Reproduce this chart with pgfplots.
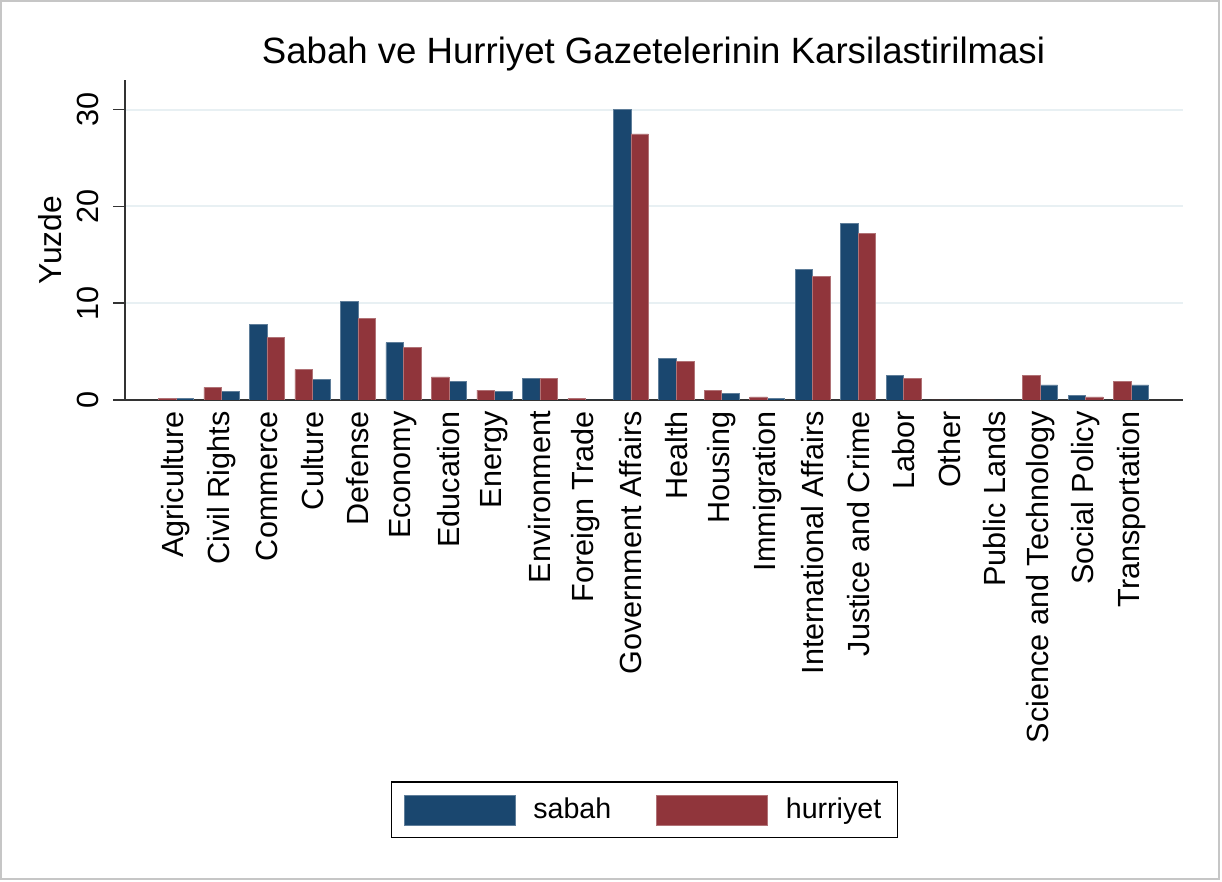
\documentclass[border=0pt]{standalone}
\usepackage{fontspec}
\setmainfont{Liberation Sans}
\usepackage{pgfplots}
\pgfplotsset{compat=1.18}
\definecolor{sabahblue}{RGB}{26,71,111}
\definecolor{hurred}{RGB}{144,53,59}
\definecolor{gridc}{RGB}{232,240,243}
\begin{document}
\begin{tikzpicture}
\useasboundingbox (0,0) rectangle (611pt,441pt);
\draw[gray!45, line width=0.6pt] (0.5pt,1.5pt) rectangle (609.5pt,440.5pt);
\node[font=\fontsize{18.3}{22}\selectfont] at (326.75pt,414pt) {Sabah ve Hurriyet Gazetelerinin Karsilastirilmasi};
\begin{axis}[
  at={(62.5pt,241pt)}, anchor=south west,
  scale only axis, width=529pt, height=160pt,
  xmin=-1.12, xmax=22.14, ymin=0, ymax=33.06,
  ybar, bar shift=0pt, bar width=0.385,
  axis lines*=left,
  axis line style={black!80, line width=0.8pt},
  xtick={0,...,21},
  xticklabels={Agriculture,Civil Rights,Commerce,Culture,Defense,Economy,Education,Energy,Environment,Foreign Trade,Government Affairs,Health,Housing,Immigration,International Affairs,Justice and Crime,Labor,Other,Public Lands,Science and Technology,Social Policy,Transportation},
  x tick style={draw=none},
  xticklabel style={rotate=90, anchor=east, inner sep=0pt, font=\fontsize{15.3}{18}\selectfont},
  xticklabel shift=-0.5pt,
  ytick={0,10,20,30},
  y tick style={black!80, line width=0.8pt},
  tick align=outside, major tick length=6pt,
  yticklabel style={rotate=90, anchor=south, inner sep=0pt, font=\fontsize{15.3}{18}\selectfont},
  yticklabel shift=7pt,
  /pgf/number format/assume math mode=true,
  ymajorgrids, grid style={gridc, line width=1pt},
  ylabel={Yuzde},
  ylabel style={at={(axis description cs:-0.0709,0.5)}, anchor=center, font=\fontsize{15.9}{18}\selectfont},
  legend columns=2,
  legend style={at={(0.491,-1.281)}, anchor=center, draw=black, line width=0.6pt,
    inner xsep=6pt, inner ysep=6pt, font=\fontsize{14.3}{17}\selectfont,
    /tikz/every odd column/.append style={column sep=7pt},
    /tikz/every even column/.append style={column sep=20.5pt}},
  legend image code/.code={\fill[#1] (0pt,-7.5pt) rectangle (55.5pt,7.5pt);},
]
\addplot[fill=sabahblue, draw=sabahblue!70!white, line width=0.3pt] coordinates {
  (0.1925,0.15) (1.1925,0.86) (1.8075,7.85) (3.1925,2.10) (3.8075,10.2)
  (4.8075,5.92) (6.1925,1.93) (7.1925,0.86) (7.8075,2.24) (9.1925,0)
  (9.8075,30.0) (10.8075,4.31) (12.1925,0.72) (13.1925,0.15) (13.8075,13.5)
  (14.8075,18.25) (15.8075,2.51) (17.1925,0) (18.1925,0) (19.1925,1.55)
  (19.8075,0.48) (21.1925,1.55)};
\addplot[fill=hurred, draw=hurred!70!white, line width=0.3pt] coordinates {
  (-0.1925,0.17) (0.8075,1.31) (2.1925,6.47) (2.8075,3.17) (4.1925,8.4)
  (5.1925,5.40) (5.8075,2.38) (6.8075,1.03) (8.1925,2.24) (8.8075,0.15)
  (10.1925,27.5) (11.1925,4.0) (11.8075,1.0) (12.8075,0.31) (14.1925,12.78)
  (15.1925,17.18) (16.1925,2.24) (16.8075,0) (17.8075,0) (18.8075,2.51)
  (20.1925,0.31) (20.8075,1.96)};
\legend{sabah,hurriyet}
\end{axis}
\end{tikzpicture}
\end{document}
